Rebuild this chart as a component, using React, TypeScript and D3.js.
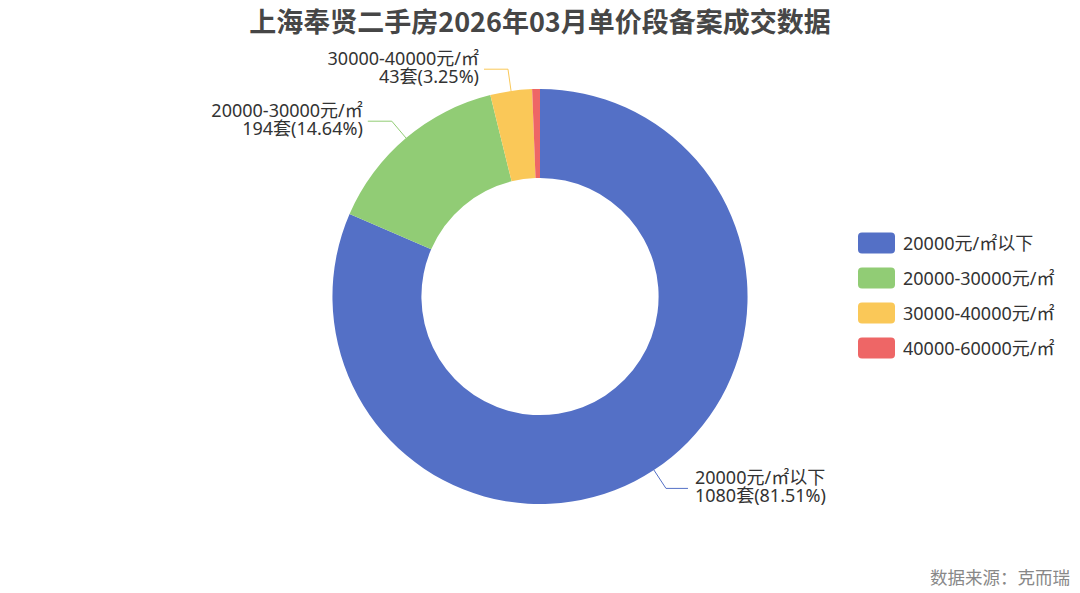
import { useEffect, useRef } from 'react'
import * as d3 from 'd3'

const categories = ['20000元/㎡以下', '20000-30000元/㎡', '30000-40000元/㎡', '40000-60000元/㎡']
const counts = [1080, 194, 43, 8]
const percents = ['81.51%', '14.64%', '3.25%', '0.60%']
const colors = ['#5470c6', '#91cc75', '#fac858', '#ee6666']
const title = '上海奉贤二手房2026年03月单价段备案成交数据'
const source = '数据来源：克而瑞'

const W = 1080, H = 593
const FONT = '"Noto Sans", "Noto Sans CJK SC", sans-serif'
const CJK = '"Noto Sans CJK SC", "Noto Sans", sans-serif'

export default function App() {
  const ref = useRef<SVGSVGElement>(null)

  useEffect(() => {
    document.body.style.margin = '0'
    const svg = d3.select(ref.current!)
    svg.selectAll('*').remove()

    svg.append('text').attr('x', W / 2).attr('y', 20)
      .attr('text-anchor', 'middle').attr('dominant-baseline', 'central')
      .attr('font-size', 27).attr('font-weight', 'bold').attr('fill', '#464646')
      .attr('font-family', CJK).text(title)

    const cx = W / 2, cy = H / 2
    const outerR = Math.min(W, H) / 2 * 0.7
    const innerR = Math.min(W, H) / 2 * 0.4

    const data = categories.map((c, i) => ({ name: c, value: counts[i], pct: percents[i], color: colors[i] }))
    const pie = d3.pie<typeof data[0]>().value(d => d.value).sort(null)
    const arcs = pie(data)
    const arc = d3.arc<d3.PieArcDatum<typeof data[0]>>().innerRadius(innerR).outerRadius(outerR)

    const g = svg.append('g').attr('transform', `translate(${cx},${cy})`)
    g.selectAll('path.slice').data(arcs).join('path').attr('class', 'slice')
      .attr('d', arc as any).attr('fill', d => d.data.color)

    // Labels with leader lines (tiny slices hidden)
    arcs.forEach(a => {
      if (a.endAngle - a.startAngle < 0.06) return
      const mid = (a.startAngle + a.endAngle) / 2
      const sx = Math.sin(mid), sy = -Math.cos(mid)
      const p1 = [sx * outerR, sy * outerR]
      const p2 = [sx * (outerR + 22), sy * (outerR + 22)]
      const right = sx >= 0
      const p3 = [p2[0] + (right ? 22 : -24), p2[1]]
      g.append('path').attr('d', d3.line()([p1, p2, p3] as any))
        .attr('fill', 'none').attr('stroke', a.data.color).attr('stroke-width', 1)
      const tx = p3[0] + (right ? 7 : -5)
      const lines = [a.data.name, `${a.data.value}套(${a.data.pct})`]
      lines.forEach((s, i) => {
        g.append('text').attr('x', tx).attr('y', p3[1] - 11.5 + i * 18)
          .attr('text-anchor', right ? 'start' : 'end').attr('dominant-baseline', 'central')
          .attr('font-size', 18).attr('fill', '#333').attr('font-family', FONT).text(s)
      })
    })

    // Legend
    const lg = svg.append('g').attr('transform', 'translate(858,243)')
    data.forEach((d, i) => {
      const row = lg.append('g').attr('transform', `translate(0,${i * 35})`)
      row.append('rect').attr('x', 0).attr('y', -10.5).attr('width', 37).attr('height', 21)
        .attr('rx', 4).attr('fill', d.color)
      row.append('text').attr('x', 45).attr('y', 0).attr('dominant-baseline', 'central')
        .attr('font-size', 18).attr('fill', '#333').attr('font-family', FONT).text(d.name)
    })

    svg.append('text').attr('x', 1070).attr('y', 576)
      .attr('text-anchor', 'end').attr('dominant-baseline', 'central')
      .attr('font-size', 17.5).attr('fill', '#888').attr('font-family', CJK).text(source)
  }, [])

  return <svg ref={ref} width={W} height={H} style={{ display: 'block', background: '#fff' }} />
}
